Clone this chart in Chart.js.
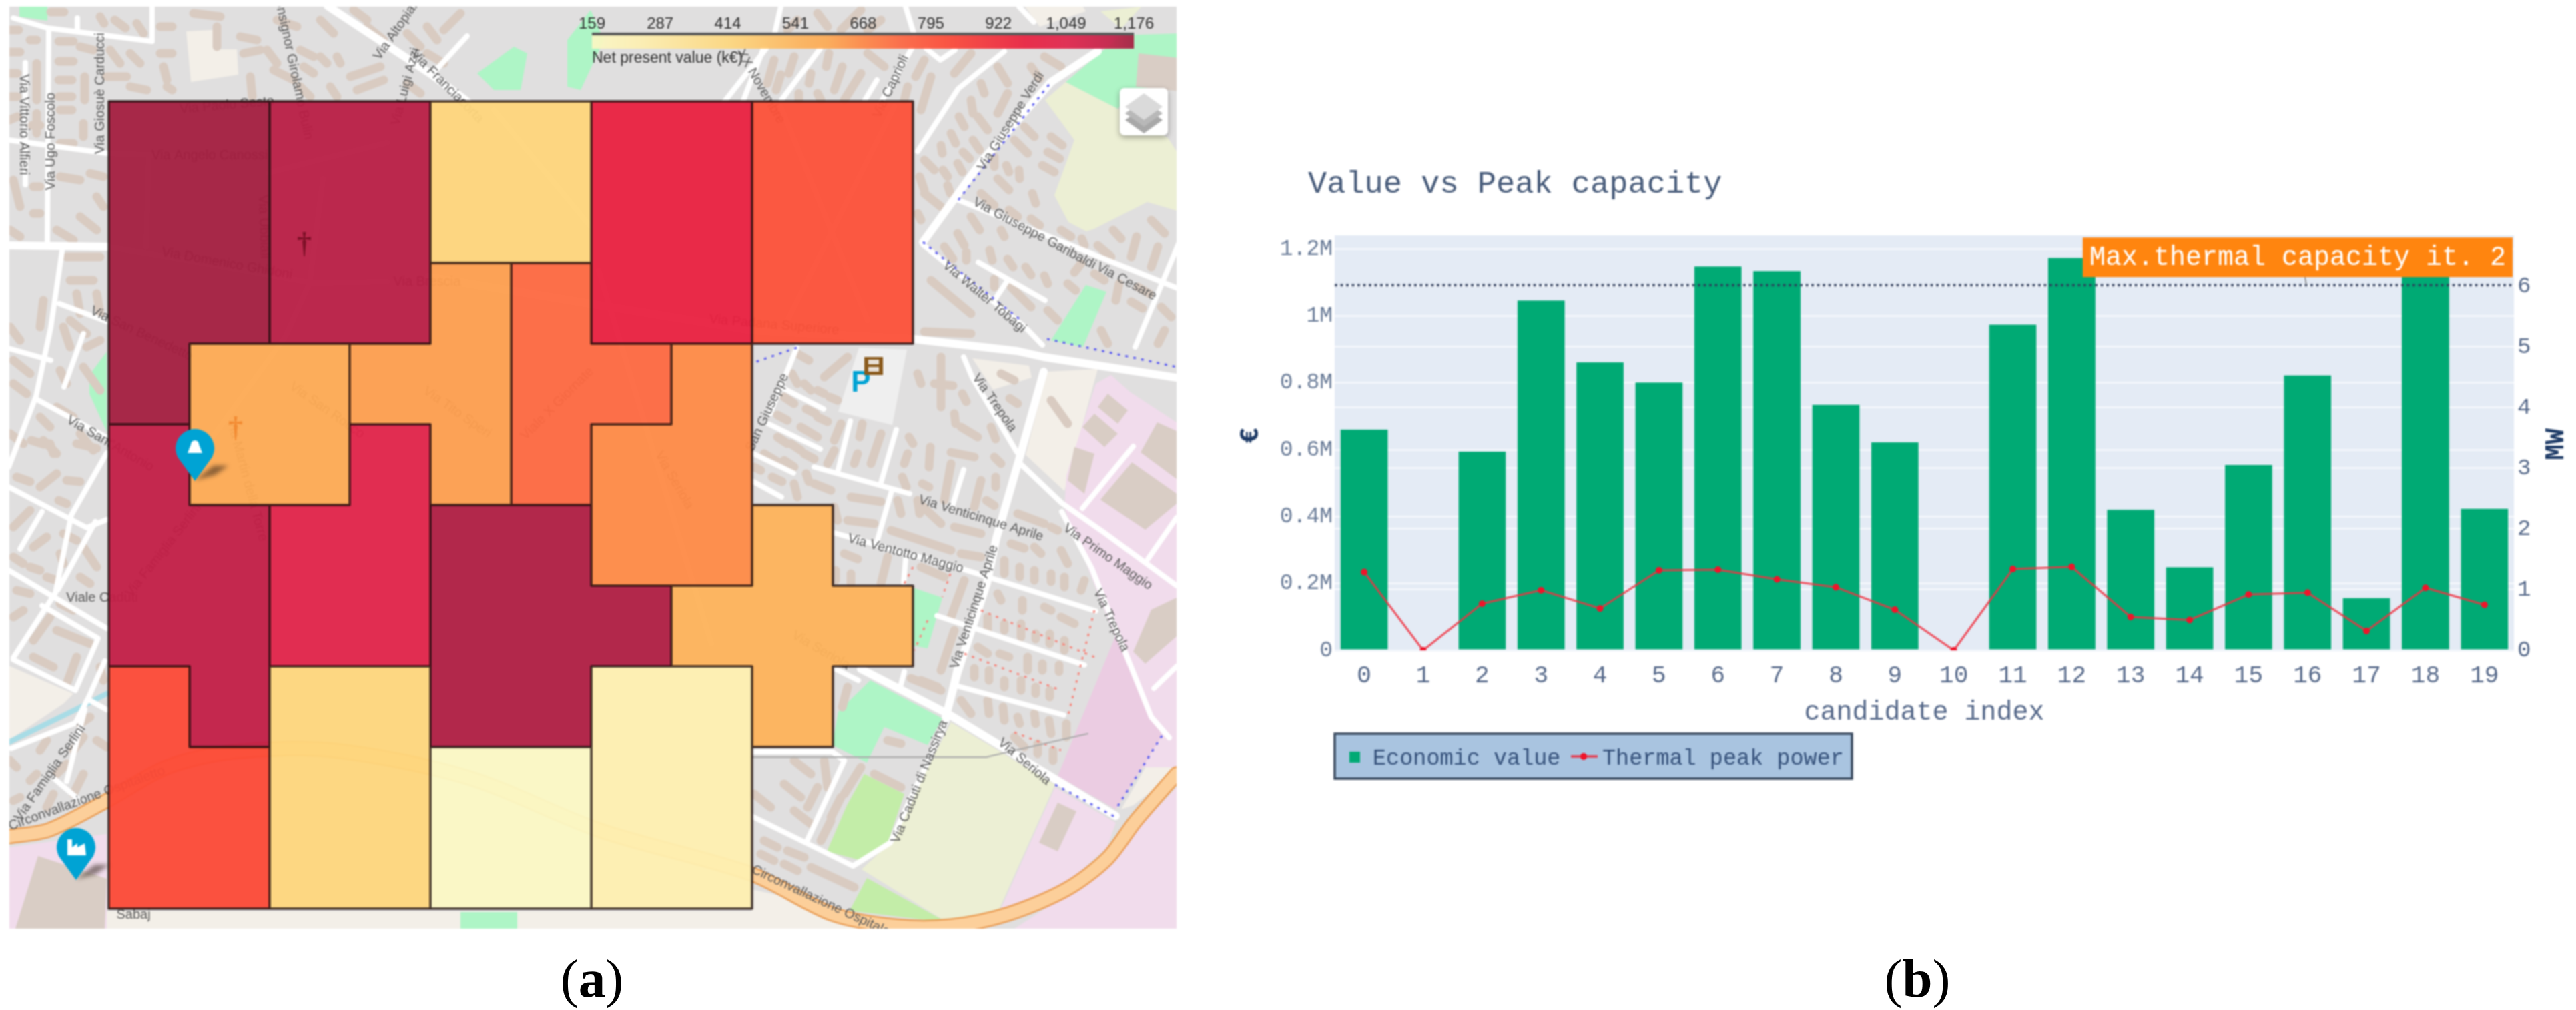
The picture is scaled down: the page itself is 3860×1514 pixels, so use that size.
<!DOCTYPE html>
<html>
<head>
<meta charset="utf-8">
<title>Net present value map and value vs peak capacity</title>
<script src="https://cdn.jsdelivr.net/npm/chart.js"></script>
<style>
  html, body { margin: 0; background: #fff; width: 3860px; height: 1514px; overflow: hidden; }
  canvas { position: absolute; filter: blur(1.1px); }
  #map-chart { left: 14px; top: 10px; }
  #value-chart { left: 1800px; top: 200px; }
  .caption { position: absolute; top: 1422px; width: 200px; text-align: center; font: 81px/90px "Liberation Serif", serif; color: #000; }
  .caption b { font-weight: bold; }
</style>
</head>
<body>
<canvas id="map-chart" width="1749" height="1382"></canvas>
<canvas id="value-chart" width="2060" height="1000"></canvas>
<div class="caption" style="left:787px">(<b>a</b>)</div>
<div class="caption" style="left:2773px">(<b>b</b>)</div>
<script>
// ---- panel (b) data
const candidateIndex = ['0','1','2','3','4','5','6','7','8','9','10','11','12','13','14','15','16','17','18','19'];
const economicValue = [660000,0,594000,1046000,861000,801000,1148000,1134000,734000,622000,0,974000,1173000,420000,248000,554000,822000,156000,1160000,423000];
const thermalPeakPower = [1.29,0,0.77,0.99,0.69,1.32,1.33,1.17,1.04,0.67,0,1.34,1.375,0.55,0.5,0.92,0.95,0.32,1.03,0.75];
const valueTicks = [0,200000,400000,600000,800000,1000000,1200000];
const valueTickLabels = ['0','0.2M','0.4M','0.6M','0.8M','1M','1.2M'];
const powerTicks = [0,1,2,3,4,5,6];
const maxThermalCapacity = 6.02;

// ---- panel (a) data: 10x10 grid of cells, one letter per candidate area
const cellRows = [
  'AABBCCDDEE',
  'AABBCCDDEE',
  'AABBGHDDEE',
  'AFFGGHHI..',
  'KFFJGHII..',
  'KKJJNNIIQ.',
  'KKJJNNNQQQ',
  'LKMMNNPPQ.',
  'LLMMOOPP..',
  'LLMMOOPP..'
];
const areaIds = ['A','B','C','D','E','F','G','H','I','J','K','L','M','N','O','P','Q'];
const areaNpv = [1176,1148,423,974,801,594,622,734,660,1046,1134,822,420,1160,159,248,554];
const colorbarTicks = [159,287,414,541,668,795,922,1049,1176];
const npvColorStops = [
  [159,'#fbf8c4'],[250,'#feefb0'],[420,'#fed67c'],[560,'#fdb058'],[600,'#fda952'],[660,'#fe8a46'],
  [740,'#fd6540'],[820,'#fc4a36'],[970,'#e9203e'],[1050,'#e0234a'],[1134,'#c21e46'],[1176,'#a31d3f']
];

// ---- map scenery, in map units
const cream = [[13,998,110,1040,95,1055,13,1110],[279,47,319,45,321,74,355,74,357,112,286,123],[1537,682,1569,557,1645,553,1595,736],
  [1457,537,1542,548,1546,566,1488,584],[1536,10,1623,10,1627,17,1558,40],[1126,1333,1273,1365,1300,1392,1126,1392],[1680,1213,1741,1107,1763,1113,1763,1157,1698,1207],[160,1366,1127,1366,1127,1392,160,1392]];
const mint = [[1597,123,1680,53,1767,50,1767,133,1702,133,1675,163],[1627,427,1658,437,1623,520,1575,510],[1304,1020,1412,1077,1390,1117,1325,1090,1299,1143,1247,1117,1256,1067],
  [1368,881,1412,896,1390,972,1368,968],[29,9,71,9,71,31,29,25],[850,130,850,60,885,15,905,60,870,135],[715,110,770,70,790,80,780,135,740,135],[134,562,160,527,160,647,134,590],[690,1367,775,1367,775,1392,690,1392]];
const leaf = [[1295,1160,1355,1190,1329,1266,1291,1290,1239,1276,1269,1207],[1299,1316,1420,1383,1273,1365]];
const meadow = [[1566,150,1597,123,1675,163,1750,207,1767,233,1767,317,1719,303,1640,343,1628,347,1601,333,1580,293,1610,210],
  [1425,1083,1581,1176,1494,1370,1420,1383,1291,1303,1334,1263],[1649,17,1710,10,1680,43]];
const pink = [[1642,575,1665,562,1694,588,1763,633,1763,1150,1595,1150,1671,955,1595,762,1598,713],[1581,1180,1672,1233,1659,1270,1589,1333,1498,1366],
  [1659,1290,1763,1180,1763,1392,1520,1392,1600,1340],[13,1270,160,1250,160,1392,13,1392]];
const mauve = [[1671,955,1741,1103,1672,1213,1585,1163]];
const paved = [[1256,617,1287,521,1359,524,1337,637]];
const tanBlocks = [[57,1283,160,1317,157,1392,23,1392],[1696,693,1763,740,1763,755,1716,794,1649,749],[1734,633,1763,646,1763,718,1709,678],[1725,914,1763,896,1763,954,1716,995,1698,977],
  [1585,1203,1613,1216,1585,1276,1557,1263],[1660,590,1690,615,1675,635,1645,610],[1640,620,1675,650,1655,670,1622,640],[1640,680,1625,740,1600,720,1610,670],[1706,80,1767,87,1767,137,1702,130]];
const majorRoads = [[1368,508,1524,526,1564,535,1763,566],[1290,1003,1420,1070,1672,1223],[1645,77,1575,123,1470,243,1383,363],[491,9,647,112,700,152],[13,368,161,370],
  [642,415,1127,495,1368,508],[1564,557,1529,682,1493,807,1479,874,1435,1008,1417,1075]];
const minorRoads = [[20,27,71,42,228,62],[228,9,228,62],[116,27,116,44],[73,45,71,362],[13,210,161,230],[94,370,76,491,54,594,13,700],[89,455,161,482],[54,598,161,656],[13,522,76,540],[125,500,96,580],[38,94,38,277],
  [647,112,700,54],[1148,73,1085,153],[1229,73,1171,150],[1366,73,1318,157],[1144,73,1113,153],[1314,120,1296,150],[1357,10,1370,53],[1527,10,1549,33],[1170,10,1161,50],[1388,73,1409,90,1431,75],
  [1505,77,1436,133,1375,227],[1383,367,1536,490,1562,517],[1436,300,1767,433],[1466,393,1566,450],[1510,420,1492,447],[1767,363,1701,520],
  [1444,535,1457,566,1524,678],[1529,695,1591,754,1654,798,1763,878],[1591,767,1636,852,1680,963,1725,1075,1752,1106],[1698,669,1622,762],[1763,776,1720,838],[1763,999,1729,1032],
  [1247,798,1439,852,1642,916],[1404,923,1625,997],[1429,1027,1594,1072],[1433,1003,1418,1067],[1420,1077,1334,1263,1278,1298,1126,1223],[1265,1140,1208,1263],[1126,1127,1247,1127,1265,1140],[1355,1007,1349,1030],[1252,1003,1286,1020],
  [1220,700,1363,740],[1274,631,1256,704],[1343,644,1319,727],[1336,736,1314,812],[1174,582,1234,613],[1151,635,1229,673],[1129,680,1189,709],[1129,722,1171,745],[1194,521,1154,620],[1444,704,1426,762],[1357,838,1354,874],
  [160,679,107,772,83,889,20,986],[13,730,130,791,160,779],[63,767,30,823],[13,855,160,942],[143,782,87,884],[63,908,147,957,113,1035,20,989],[157,991,133,1045,113,1084,17,1122],[133,1049,160,1064],[127,1064,100,1171],[80,1166,120,1200],
  [402,259,580,214],[163,370,268,388,469,424,580,422],[484,268,464,424,428,504,286,700],[223,232,219,370],[161,230,300,235],[897,405,1066,965],[740,165,885,340],[1170,160,1300,480],[1340,160,1180,480]];
const buildings = [[76,18,96,18],[150,25,156,35],[172,30,188,42],[205,35,215,50],[14,45,28,45],[45,60,55,60],[14,78,30,78],[88,62,110,62],[120,70,140,75],[88,92,110,92],[55,95,55,150],[127,115,127,150],[88,120,108,120],[88,145,108,145],
  [165,75,180,95],[195,80,210,95],[160,115,190,115],[195,130,220,135],[240,40,258,40],[240,80,258,80],[245,100,250,120],[250,130,258,135],[290,20,330,25],[325,40,325,70],[360,55,385,60],[365,80,390,75],[400,75,415,95],[450,75,470,85],[480,85,490,95],[505,85,510,95],
  [455,100,470,110],[525,115,570,100],[535,135,575,120],[375,115,378,145],[410,105,440,120],[495,130,505,145],[610,125,630,140],[450,130,465,145],[480,30,500,50],[530,15,550,30],[550,40,575,60],[610,50,630,70],[640,40,655,60],[665,45,690,20],[640,80,665,95],[415,30,445,40],
  [14,110,26,110],[14,145,26,145],[14,180,26,175],[55,170,55,200],[48,188,60,188],[90,165,108,165],[125,185,125,205],[90,215,110,215],[90,265,120,270],[50,280,60,280],[50,320,60,320],[20,270,30,310],[135,260,155,265],[145,295,155,310],[120,325,145,345],[85,345,110,360],[15,345,30,355],
  [100,385,150,385],[105,420,140,420],[115,440,120,470],[145,440,150,470],[95,490,105,520],[105,480,130,500],[130,520,150,510],[90,555,100,575],[125,550,150,585],[85,610,110,625],[65,450,60,490],[15,490,30,510],[20,540,45,560],[20,575,40,590],[60,625,75,640],[65,660,85,680],[120,650,140,675],[15,650,35,665],
  [47,660,66,666],[75,665,80,680],[115,665,145,672],[25,715,45,722],[60,730,85,710],[100,720,120,722],[88,750,100,755],[20,790,45,765],[50,820,70,805],[95,800,115,810],[90,830,95,845],[20,835,35,845],[45,850,60,855],[70,865,85,870],[125,820,145,850],[120,865,135,875],[25,885,45,890],[20,925,35,915],[90,905,110,915],
  [50,960,75,925],[50,985,80,1000],[85,945,135,965],[115,985,100,1025],[150,1000,155,1020],[135,1075,120,1085],[125,1105,110,1125],[70,1110,60,1125],[145,1110,160,1120],[15,1140,25,1150],[55,1160,45,1170],[100,1145,85,1160],[125,1160,110,1190],[30,1195,20,1200],[80,1190,70,1210],
  [1225,20,1240,40],[1290,15,1260,45],[1320,30,1300,45],[1195,30,1180,45],[1160,90,1150,125],[1190,85,1182,110],[1170,112,1163,135],[1215,110,1212,125],[1242,80,1238,100],[1262,100,1250,135],[1290,110,1265,150],[1225,140,1230,150],[1197,140,1197,150],[1300,80,1325,100],[1385,90,1372,115],[1395,115,1380,165],[1360,130,1355,150],
  [1455,80,1430,110],[1495,100,1510,125],[1470,125,1475,140],[1545,100,1558,118],[1565,85,1590,100],[1510,140,1495,170],[1455,150,1458,170],[1437,175,1445,190],[1465,175,1480,195],[1425,200,1432,215],[1458,210,1468,225],[1410,218,1412,230],[1443,228,1453,238],[1385,240,1400,255],[1435,245,1442,258],[1413,255,1420,265],[1378,265,1385,285],[1420,278,1424,290],[1385,290,1410,310],[1375,320,1380,330],
  [1490,235,1490,250],[1508,248,1512,258],[1527,255,1528,268],[1495,268,1512,285],[1470,290,1490,308],[1547,290,1552,305],[1535,190,1550,205],[1520,210,1540,230],[1575,205,1592,218],[1570,228,1588,238],[1562,248,1580,258],[1512,315,1525,325],[1545,328,1558,338],[1455,325,1468,345],[1500,345,1505,355],[1435,350,1445,368],[1415,370,1428,388],[1448,378,1448,390],[1483,375,1487,390],[1510,388,1518,400],[1537,400,1545,412],[1565,413,1570,425],
  [1620,395,1610,408],[1590,345,1605,355],[1621,358,1625,368],[1645,368,1665,385],[1668,345,1680,358],[1703,355,1695,385],[1735,370,1725,400],[1725,330,1745,350],[1677,425,1672,450],[1705,430,1722,440],[1695,452,1712,462],[1640,410,1655,420],[1600,425,1612,435],[1515,430,1545,460],[1395,420,1455,470],[1490,418,1490,430],[1570,465,1585,480],[1650,495,1660,515],[1740,460,1755,475],[1745,495,1735,515],[1385,497,1455,500],
  [1195,530,1212,540],[1235,565,1270,535],[1187,560,1195,575],[1205,575,1215,585],[1225,585,1235,590],[1243,595,1255,600],[1375,560,1380,575],[1410,535,1410,610],[1400,575,1428,578],[1442,590,1448,602],[1500,560,1520,570],[1513,597,1525,605],[1575,600,1600,635],[1430,620,1432,635],[1440,640,1465,655],[1485,640,1492,658],[1362,655,1368,665],[1320,650,1305,695],[1292,635,1288,655],[1260,635,1250,660],[1285,680,1280,695],[1250,675,1240,695],[1360,680,1355,695],[1394,670,1392,700],[1425,678,1460,685],[1490,685,1500,695],
  [1165,622,1180,630],[1225,625,1240,632],[1208,613,1222,620],[1175,595,1190,605],[1200,640,1225,655],[1165,655,1180,665],[1185,665,1200,675],[1205,680,1220,688],[1145,680,1165,692],[1175,690,1190,700],[1130,700,1140,705],[1157,715,1172,722],[1190,725,1195,745],[1208,710,1212,722],[1220,725,1245,735],[1275,745,1320,752],[1352,715,1358,730],[1382,725,1392,730],[1425,695,1415,750],[1345,750,1350,770],[1378,755,1410,785],[1375,750,1378,770],[1470,720,1460,760],[1492,715,1492,730],[1478,750,1490,758],
  [1270,780,1310,785],[1335,795,1425,825],[1430,790,1470,800],[1525,770,1565,785],[1575,790,1585,795],[1440,830,1470,835],[1515,815,1535,822],[1550,820,1560,830],[1590,825,1600,845],[1505,840,1505,860],[1528,850,1528,865],[1550,855,1550,870],[1575,860,1575,872],[1595,865,1595,880],[1625,870,1620,885],[1495,890,1500,900],[1532,900,1532,915],[1565,910,1575,915],[1590,925,1610,935],[1480,925,1480,945],[1505,935,1505,945],[1530,935,1530,955],[1552,950,1552,958],[1573,950,1573,965],[1595,960,1595,975],[1465,970,1480,980],[1498,980,1512,985],[1540,985,1540,1005],[1562,995,1562,1005],[1587,997,1587,1007],
  [1380,1020,1405,1030],[1460,1002,1460,1015],[1482,1005,1482,1020],[1505,1020,1505,1030],[1530,1020,1530,1035],[1552,1030,1552,1040],[1573,1035,1573,1045],[1430,945,1410,1005],[1445,870,1425,925],[1330,835,1320,875],[1380,850,1415,865],[1250,760,1255,780],[1265,830,1285,838],[1275,860,1275,875],[1252,855,1252,870],
  [1190,1140,1215,1160],[1240,1180,1235,1140],[1175,1175,1200,1195],[1225,1180,1210,1210],[1290,1150,1265,1190],[1260,1195,1245,1225],[1245,1230,1230,1260],[1190,1215,1215,1235],[1130,1190,1155,1210],[1145,1260,1165,1270],[1140,1280,1160,1290],[1180,1275,1205,1285],[1175,1295,1195,1305],[1215,1300,1280,1330],[1330,1110,1350,1115],[1310,1160,1350,1180],[1365,1017,1410,1035],[1270,1030,1262,1060],[1440,1050,1455,1070],[1480,1050,1482,1070],[1503,1060,1505,1080],[1525,1075,1528,1085],[1550,1070,1552,1085],[1572,1080,1575,1100],[1598,1085,1598,1105],[1520,1105,1535,1120],[1555,1115,1555,1130],[1578,1125,1578,1140]];
const ringRoad = [[13,1254,73,1244,160,1200,250,1150,350,1127,500,1125,700,1165,900,1245,1126,1310,1247,1370,1342,1388,1425,1388,1511,1370,1598,1333,1659,1287,1702,1230,1763,1160]];
const canal = [[13,1113,113,1064,160,1040]];
const cycleTracks = [[1569,508,1763,550],[1581,1176,1672,1225],[1741,1103,1672,1213],[1436,300,1575,123],[1383,363,1530,480],[1194,521,1125,545]];
const footPaths = [[1368,850,1355,875],[1424,860,1412,895],[1390,930,1370,975],[1470,915,1640,985],[1640,915,1600,1075],[1445,980,1590,1035],[1520,1098,1590,1125]];
const powerLine = [[1126,1135,1478,1135,1630,1100]];
const streetNames = ['Via Vittorio Alfieri','Via Ugo Foscolo','Via Giosuè Carducci','Via Monsignor Girolamo Bulin','Via Altopiano','Via Luigi Azzi','Via Franciacorta','Via Paolo Sesto','Via Angelo Canossi','Via Domenico Ghidoni','Via Brescia','Via Ubbiali','Via Padana Superiore','Via San Benedetto',"Via Sant'Antonio",'Via Famiglia Serlini','Viale Caduti','Via Famiglia Serlini','Circonvallazione Ospitaletto','Circonvallazione Ospitaletto','Via Giuseppe Verdi','Via Giuseppe Garibaldi','Via Cesare','Via Walter Tobagi','Via Trepola','Via Venticinque Aprile','Via Ventotto Maggio','Via Primo Maggio','Via Venticinque Aprile','Via Trepola','Via Seriola','Via Caduti di Nassirya','San Giuseppe','Via Caprioli','XX Novembre','Via Tito Speri','Via San Rocco','Via Seriola','Viale X Giornate','Via Seriola','Via Martin della Torre','Sabaj'];
const streetSpots = [[36,187,90],[76,212,-90],[150,140,-90],[435,80,78],[598,40,-55],[608,130,-75],[670,130,45],[340,158,-5],[314,233,0],[340,395,10],[640,422,0],[395,340,88],[1160,487,5],[212,500,25],[165,665,30],[245,825,-52],[153,896,0],[75,1159,-55],[130,1197,-20],[1240,1355,25],[1515,182,-58],[1550,350,28],[1688,422,28],[1475,445,40],[1490,604,55],[1470,777,17],[1357,830,15],[1660,835,35],[1460,910,-72],[1665,930,65],[1535,1142,40],[1378,1172,-68],[1150,618,-65],[1335,130,-65],[1140,130,60],[685,618,35],[490,615,35],[1010,720,60],[835,605,-45],[1230,975,30],[370,720,75],[200,1371,0]];

const mapDatasets = [];
const addLines = (lines, color, width, extra = {}) => {
  const data = [];
  lines.forEach(l => {
    for (let i = 0; i < l.length; i += 2) data.push({ x: l[i], y: l[i + 1] });
    data.push({ x: null, y: null });
  });
  mapDatasets.push({ data, showLine: true, borderColor: color, borderWidth: width, pointRadius: 0, spanGaps: false,
    borderCapStyle: 'round', borderJoinStyle: 'round', order: -mapDatasets.length, ...extra });
};
const addAreas = (areas, color) => areas.forEach(a => {
  const data = [];
  for (let i = 0; i < a.length; i += 2) data.push({ x: a[i], y: a[i + 1] });
  mapDatasets.push({ data, showLine: true, fill: 'shape', backgroundColor: color, borderWidth: 0, pointRadius: 0, order: -mapDatasets.length });
});

addAreas(cream, '#f3efe8');
addAreas(pink, '#f1dcec');
addAreas(mauve, '#ebcce2');
addAreas(meadow, '#ecefd4');
addAreas(mint, '#aef5c6');
addAreas(leaf, '#c3eda8');
addAreas(paved, '#efefef');
addAreas(tanBlocks, '#d9cdc5');
addLines(canal, '#a8dce6', 8);
addLines(buildings, '#d9cbc1', 13);
addLines(minorRoads, '#ffffff', 8);
addLines(majorRoads, '#ffffff', 12);
addLines(ringRoad, '#ea9f58', 23, { tension: 0.3 });
addLines(ringRoad, '#fccf9a', 18, { tension: 0.3 });
addLines(cycleTracks, '#5b5cf0', 3, { borderDash: [4, 8], borderCapStyle: 'butt' });
addLines(footPaths, '#f58a80', 3, { borderDash: [4, 8], borderCapStyle: 'butt' });
addLines(powerLine, '#a9a9a9', 2);

const npvColor = v => {
  const stops = npvColorStops;
  let i = 1;
  while (i < stops.length - 1 && v > stops[i][0]) i++;
  const [v0, c0] = stops[i - 1], [v1, c1] = stops[i];
  const t = (v - v0) / (v1 - v0);
  const ch = (c, n) => parseInt(c.substr(1 + n * 2, 2), 16);
  return `rgb(${[0, 1, 2].map(n => Math.round(ch(c0, n) + (ch(c1, n) - ch(c0, n)) * t)).join(',')})`;
};

const drawPin = (ctx, x, y, icon) => {
  ctx.save();
  ctx.save();
  ctx.filter = 'blur(3px)';
  ctx.fillStyle = 'rgba(50,35,25,.55)';
  ctx.beginPath(); ctx.moveTo(x, y + 48); ctx.lineTo(x + 28, y + 26); ctx.lineTo(x + 50, y + 26); ctx.lineTo(x + 30, y + 40); ctx.closePath(); ctx.fill();
  ctx.restore();
  ctx.fillStyle = '#00a3d4';
  ctx.beginPath();
  ctx.arc(x, y, 29, Math.PI * 0.85, Math.PI * 0.15);
  ctx.lineTo(x, y + 49);
  ctx.closePath();
  ctx.fill();
  ctx.fillStyle = '#fff';
  if (icon === 'bell') {
    ctx.beginPath(); ctx.arc(x, y - 6, 6, 0, Math.PI * 2); ctx.fill();
    ctx.beginPath(); ctx.moveTo(x - 6, y - 6); ctx.lineTo(x + 6, y - 6); ctx.lineTo(x + 11, y + 7); ctx.lineTo(x - 11, y + 7); ctx.closePath(); ctx.fill();
  } else {
    ctx.beginPath();
    [[-13,-12],[-6,-12],[-6,0],[2,-6],[2,0],[13,-6],[15,12],[-13,12]].forEach(([dx, dy], i) => i ? ctx.lineTo(x + dx, y + dy) : ctx.moveTo(x + dx, y + dy));
    ctx.closePath(); ctx.fill();
  }
  ctx.restore();
};

// cells, colorbar and map furniture sit on top of the scenery datasets
const mapOverlay = {
  id: 'mapOverlay',
  beforeDraw(chart) {
    const { ctx, width, height } = chart;
    ctx.fillStyle = '#e0dfdf';
    ctx.fillRect(0, 0, width, height);
  },
  afterDatasetsDraw(chart) {
    const { ctx, scales: { x: sx, y: sy } } = chart;
    const px = v => sx.getPixelForValue(v), py = v => sy.getPixelForValue(v);
    const gridX = c => Math.round(px(163 + c * 120.5)), gridY = r => Math.round(py(152 + r * 121));

    ctx.save();
    ctx.textAlign = 'center'; ctx.textBaseline = 'middle';
    ctx.fillStyle = '#5a5a5a';
    ctx.font = '20px "Liberation Sans", sans-serif';
    streetNames.forEach((name, i) => {
      const [x, y, a] = streetSpots[i];
      ctx.save();
      ctx.translate(px(x), py(y)); ctx.rotate(a * Math.PI / 180);
      ctx.fillText(name, 0, 0);
      ctx.restore();
    });
    ctx.restore();

    // cells
    const cellAt = (r, c) => (cellRows[r] && cellRows[r][c]) || '.';
    ctx.save();
    ctx.globalAlpha = 0.95;
    cellRows.forEach((row, r) => [...row].forEach((id, c) => {
      if (id === '.') return;
      ctx.fillStyle = npvColor(areaNpv[areaIds.indexOf(id)]);
      ctx.fillRect(gridX(c), gridY(r), gridX(c + 1) - gridX(c), gridY(r + 1) - gridY(r));
    }));
    ctx.globalAlpha = 0.8;
    ctx.strokeStyle = '#1a0a0a'; ctx.lineWidth = 3.5; ctx.lineCap = 'round';
    ctx.beginPath();
    cellRows.forEach((row, r) => [...row].forEach((id, c) => {
      if (id === '.') return;
      if (cellAt(r - 1, c) !== id) { ctx.moveTo(gridX(c), gridY(r)); ctx.lineTo(gridX(c + 1), gridY(r)); }
      if (cellAt(r + 1, c) !== id) { ctx.moveTo(gridX(c), gridY(r + 1)); ctx.lineTo(gridX(c + 1), gridY(r + 1)); }
      if (cellAt(r, c - 1) !== id) { ctx.moveTo(gridX(c), gridY(r)); ctx.lineTo(gridX(c), gridY(r + 1)); }
      if (cellAt(r, c + 1) !== id) { ctx.moveTo(gridX(c + 1), gridY(r)); ctx.lineTo(gridX(c + 1), gridY(r + 1)); }
    }));
    ctx.stroke();
    ctx.restore();

    // symbols that show through the cells
    ctx.save();
    ctx.textAlign = 'center'; ctx.textBaseline = 'middle';
    ctx.font = 'bold 44px "Liberation Serif", serif';
    ctx.fillStyle = 'rgba(110,10,30,.8)'; ctx.fillText('†', px(456), py(368));
    ctx.fillStyle = 'rgba(240,130,40,.8)'; ctx.fillText('†', px(353), py(644));
    ctx.fillStyle = '#00a3d4'; ctx.font = 'bold 44px "Liberation Sans", sans-serif'; ctx.fillText('P', px(1290), py(575));
    ctx.fillStyle = '#8a5a1c';
    ctx.fillRect(px(1295), py(535), 28, 27);
    ctx.fillStyle = '#e8e0d8';
    ctx.fillRect(px(1301), py(539), 16, 7); ctx.fillRect(px(1301), py(550), 16, 7);
    ctx.restore();

    // colorbar
    const barX = v => px(887 + (v - 159) / 1017 * 812);
    const top = py(50), bottom = py(73);
    const grad = ctx.createLinearGradient(barX(159), 0, barX(1176), 0);
    npvColorStops.forEach(([v]) => grad.addColorStop((v - 159) / 1017, npvColor(v)));
    ctx.save();
    ctx.globalAlpha = 0.92;
    ctx.fillStyle = grad;
    ctx.fillRect(barX(159), top, barX(1176) - barX(159), bottom - top);
    ctx.globalAlpha = 1;
    ctx.fillStyle = '#5a5a5a';
    ctx.fillRect(barX(159), top - 1, barX(1176) - barX(159), 4);
    ctx.fillStyle = '#2e2e2e';
    ctx.font = '24px "Liberation Sans", sans-serif';
    ctx.textAlign = 'center'; ctx.textBaseline = 'middle';
    colorbarTicks.forEach(v => ctx.fillText(v.toLocaleString('en-US'), barX(v), py(36)));
    ctx.textAlign = 'left';
    ctx.font = '23px "Liberation Sans", sans-serif';
    ctx.fillText('Net present value (k€)', barX(159), py(88));
    ctx.restore();

    // layers button
    ctx.save();
    ctx.shadowColor = 'rgba(0,0,0,.35)'; ctx.shadowBlur = 8; ctx.shadowOffsetY = 3;
    ctx.fillStyle = '#fff';
    ctx.beginPath(); ctx.roundRect(px(1678), py(132), 72, 71, 7); ctx.fill();
    ctx.shadowColor = 'transparent';
    [['#a8a8a8', 180], ['#b8b8b8', 170], ['#dadada', 160]].forEach(([c, y]) => {
      ctx.fillStyle = c;
      ctx.beginPath();
      ctx.moveTo(px(1714), py(y - 20)); ctx.lineTo(px(1742), py(y)); ctx.lineTo(px(1714), py(y + 20)); ctx.lineTo(px(1686), py(y));
      ctx.closePath(); ctx.fill();
    });
    ctx.restore();

    drawPin(ctx, px(292), py(672), 'bell');
    drawPin(ctx, px(114), py(1270), 'factory');
  }
};

new Chart(document.getElementById('map-chart'), {
  type: 'scatter',
  data: { datasets: mapDatasets },
  plugins: [mapOverlay],
  options: {
    responsive: false, animation: false, devicePixelRatio: 1,
    events: [],
    layout: { padding: 0 },
    plugins: { legend: { display: false }, tooltip: { enabled: false } },
    scales: {
      x: { type: 'linear', min: 14, max: 1763, display: false },
      y: { type: 'linear', min: 10, max: 1392, reverse: true, display: false }
    }
  }
});

// ---- panel (b)
const MONO = '"Liberation Mono", monospace';

const valueOverlay = {
  id: 'valueOverlay',
  beforeDraw(chart) {
    const { ctx, chartArea: a } = chart;
    ctx.fillStyle = '#e4ebf5';
    ctx.fillRect(a.left, a.top, a.right - a.left, a.bottom - a.top);
  },
  afterDatasetsDraw(chart) {
    const { ctx, chartArea: a, scales } = chart;
    const y = scales.yRight.getPixelForValue(maxThermalCapacity);
    ctx.save();

    // capacity limit and its label
    ctx.strokeStyle = 'rgba(45,60,90,.8)'; ctx.lineWidth = 4; ctx.setLineDash([4, 4.5]);
    ctx.beginPath(); ctx.moveTo(a.left, y); ctx.lineTo(a.right, y); ctx.stroke();
    ctx.setLineDash([]);
    ctx.strokeStyle = '#7a7a7a'; ctx.lineWidth = 1.5;
    ctx.beginPath(); ctx.moveTo(a.left + 1454, y - 12); ctx.lineTo(a.left + 1456, y); ctx.stroke();
    ctx.fillStyle = '#ff850f';
    ctx.fillRect(a.right - 646, y - 71, 644, 59);
    ctx.fillStyle = '#fff';
    ctx.font = `40px ${MONO}`;
    ctx.textAlign = 'center'; ctx.textBaseline = 'middle';
    ctx.fillText('Max.thermal capacity it. 2', a.right - 324, y - 41);

    // title
    ctx.textAlign = 'left';
    ctx.fillStyle = '#465a79';
    ctx.font = `47px ${MONO}`;
    ctx.fillText('Value vs Peak capacity', a.left - 40, a.top - 76);

    // axis titles
    ctx.fillStyle = '#1d3a66';
    ctx.font = `bold 40px ${MONO}`;
    ctx.textAlign = 'center';
    [['€', a.left - 125, a.top + 300], ['MW', a.right + 64, a.top + 313]].forEach(([t, x, yy]) => {
      ctx.save(); ctx.translate(x, yy); ctx.rotate(-Math.PI / 2); ctx.fillText(t, 0, 0); ctx.restore();
    });

    // legend
    const lx = a.left, ly = a.bottom + 125;
    ctx.fillStyle = '#a9c4e0';
    ctx.fillRect(lx, ly, 775, 67);
    ctx.strokeStyle = '#37475c'; ctx.lineWidth = 3.5;
    ctx.strokeRect(lx, ly, 775, 67);
    const ds = chart.data.datasets;
    ctx.fillStyle = ds[1].backgroundColor;
    ctx.fillRect(lx + 22, ly + 27, 16, 16);
    ctx.strokeStyle = '#ee2a3c'; ctx.lineWidth = 3;
    ctx.beginPath(); ctx.moveTo(lx + 354, ly + 34); ctx.lineTo(lx + 394, ly + 34); ctx.stroke();
    ctx.fillStyle = '#f0142a';
    ctx.beginPath(); ctx.arc(lx + 373, ly + 34, 5, 0, Math.PI * 2); ctx.fill();
    ctx.fillStyle = '#34507a';
    ctx.font = `33.5px ${MONO}`;
    ctx.textAlign = 'left';
    ctx.fillText(ds[1].label, lx + 57, ly + 37);
    ctx.fillText(ds[0].label, lx + 401, ly + 37);
    ctx.restore();
  }
};

new Chart(document.getElementById('value-chart'), {
  data: {
    labels: candidateIndex,
    datasets: [
      { type: 'line', label: 'Thermal peak power', data: thermalPeakPower, yAxisID: 'yRight', order: 0,
        borderColor: 'rgba(240,50,65,.85)', backgroundColor: '#f0142a', borderWidth: 3, tension: 0,
        pointRadius: 5, pointBorderWidth: 0, pointBackgroundColor: '#f0142a' },
      { type: 'bar', label: 'Economic value', data: economicValue, yAxisID: 'y', order: 1,
        backgroundColor: '#00aa74', borderWidth: 0, barPercentage: 0.8, categoryPercentage: 1 }
    ]
  },
  plugins: [valueOverlay],
  options: {
    responsive: false, animation: false, devicePixelRatio: 1,
    events: [],
    layout: { padding: { top: 153, left: 0, right: 0, bottom: 0 } },
    plugins: { legend: { display: false }, tooltip: { enabled: false } },
    scales: {
      x: {
        afterFit: s => { s.height = 225; },
        grid: { display: false }, border: { display: false },
        ticks: { font: { family: MONO, size: 36 }, color: '#56698a', padding: 9, maxRotation: 0, autoSkip: false },
        title: { display: true, text: 'candidate index', font: { family: MONO, size: 40 }, color: '#56698a', padding: { top: 0, bottom: 108 } }
      },
      y: {
        position: 'left', min: 0, max: 1240000,
        afterFit: s => { s.width = 200; },
        afterBuildTicks: s => { s.ticks = valueTicks.map(value => ({ value })); },
        grid: { color: '#f3f6fb', lineWidth: 3, drawTicks: false }, border: { display: false },
        ticks: { padding: 3, font: { family: MONO, size: 33 }, color: '#6a7c98',
          callback: (v, i) => valueTickLabels[i] }
      },
      yRight: {
        position: 'right', min: 0, max: 6.835,
        afterFit: s => { s.width = 93; },
        afterBuildTicks: s => { s.ticks = powerTicks.map(value => ({ value })); },
        grid: { color: '#f3f6fb', lineWidth: 3, drawTicks: false }, border: { display: false },
        ticks: { padding: 5, font: { family: MONO, size: 34 }, color: '#56698a' }
      }
    }
  }
});
</script>
</body>
</html>
